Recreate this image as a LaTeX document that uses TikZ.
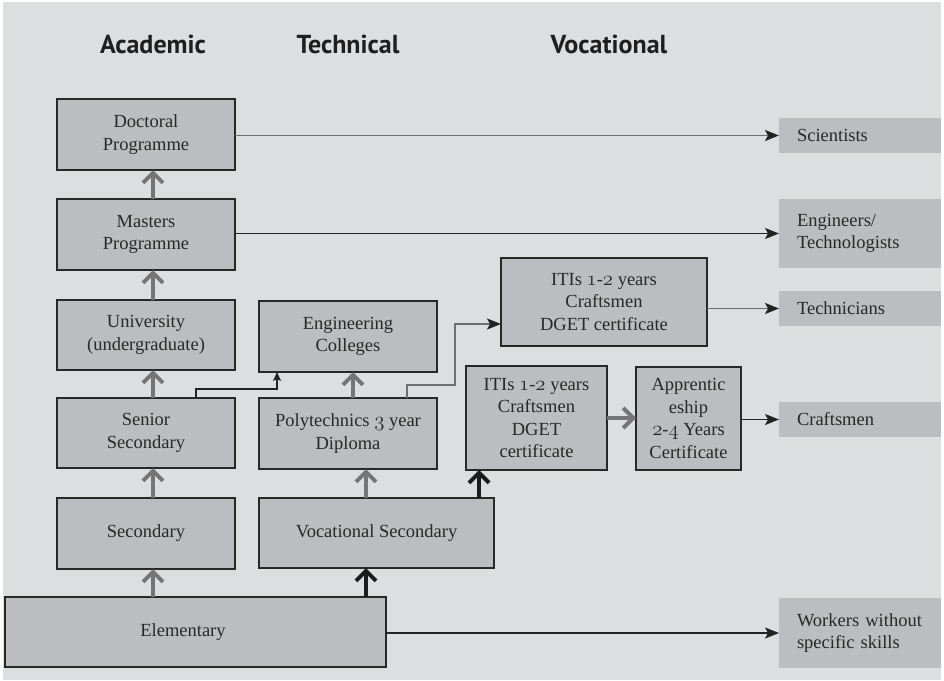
\documentclass[tikz,border=0pt]{standalone}
\usepackage{fontspec}
\newfontfamily\headfont{PT Sans}
\newfontfamily\serfont{Liberation Serif}
\usetikzlibrary{arrows.meta}
\definecolor{bgc}{RGB}{221,222,224}
\definecolor{boxfill}{RGB}{188,189,192}
\definecolor{boxline}{RGB}{40,40,40}
\definecolor{txt}{RGB}{40,40,40}
\definecolor{arrgray}{RGB}{117,117,117}
\definecolor{arrblack}{RGB}{28,28,28}
\definecolor{thingray}{RGB}{110,110,110}
\definecolor{thindark}{RGB}{35,35,35}
\newcommand\diagfont{\serfont\fontsize{18.5}{22.5}\selectfont}
\newcommand\osn[1]{{\fontencoding{OML}\fontfamily{cmm}\fontseries{m}\fontshape{it}\fontsize{20.5}{22.5}\selectfont #1}}
\begin{document}
\begin{tikzpicture}[x=1pt,y=-1pt,
  box/.style={draw=boxline, fill=boxfill, line width=1.4pt, inner sep=0pt, outer sep=0pt,
    align=center, font=\diagfont, text=txt},
  outc/.style={fill=boxfill, inner xsep=18pt, inner ysep=0pt, outer sep=0pt,
    text width=126pt, align=left, font=\diagfont, text=txt},
  head/.style={font=\headfont\bfseries\fontsize{26}{30}\selectfont, text=black!88, anchor=base},
  garrow/.style={draw=arrgray, line width=4pt, -{Straight Barb[length=10pt,width=20pt]}},
  karrow/.style={draw=arrblack, line width=4pt, -{Straight Barb[length=10pt,width=20pt]}},
  tgray/.style={draw=thingray, line width=1.5pt, -{Stealth[length=14pt,width=11pt,inset=3pt,color=thindark]}},
  tdark/.style={draw=thindark, line width=1.2pt, -{Stealth[length=14pt,width=11pt,inset=3pt]}},
  tsmall/.style={draw=thindark, line width=1.2pt, -{Stealth[length=9pt,width=8pt,inset=2pt]}}
]
\useasboundingbox (0,0) rectangle (944,680);
\fill[bgc] (3,2) rectangle (941,680);

% headings
\node[head] (hA) at (153,53) {Academic};
\node[head] (hT) at (348,53) {Technical};
\node[head] (hV) at (609,53) {Vocational};

% academic column
\node[box, minimum width=178pt, minimum height=71pt] (doc) at (146,134.5) {Doctoral\\Programme};
\node[box, minimum width=178pt, minimum height=71pt] (mas) at (146,234.5) {Masters\\Programme};
\node[box, minimum width=178pt, minimum height=70pt] (uni) at (146,335) {University\\(undergraduate)};
\node[box, minimum width=178pt, minimum height=70pt] (sen) at (146,433) {Senior\\Secondary};
\node[box, minimum width=178pt, minimum height=71pt] (sec) at (146,533.5) {Secondary};
\node[box, minimum width=381pt, minimum height=70pt] (ele) at (195.5,632) {Elementary\hspace*{25pt}};

% technical column
\node[box, minimum width=178pt, minimum height=71pt] (eng) at (348,336.5) {Engineering\\Colleges};
\node[box, minimum width=178pt, minimum height=71pt] (pol) at (348,433.5) {Polytechnics \osn{3} year\\Diploma};
\node[box, minimum width=235pt, minimum height=70pt] (voc) at (376.5,533) {Vocational Secondary};

% vocational column
\node[box, minimum width=206pt, minimum height=88pt] (itiA) at (604,302) {ITIs \osn{1}-\osn{2} years\\Craftsmen\\DGET certificate};
\node[box, minimum width=141pt, minimum height=104pt] (itiB) at (536.5,418) {ITIs \osn{1}-\osn{2} years\\Craftsmen\\DGET\\certificate};
\node[box, minimum width=105pt, minimum height=103pt] (app) at (688.5,418.5) {Apprentic\\eship\\\osn{2}-\osn{4} Years\\Certificate};

% outcomes
\node[outc, minimum height=35pt] (sci) at (860,135.5) {Scientists};
\node[outc, minimum height=69pt] (engr) at (860,233.5) {Engineers/\\Technologists};
\node[outc, minimum height=35pt] (tech) at (860,308.5) {Technicians};
\node[outc, minimum height=35pt] (craft) at (860,419.5) {Craftsmen};
\node[outc, minimum height=70pt] (work) at (860,633) {Workers without\\specific skills};

% helper coordinates
\coordinate (xa) at (153,0);
\coordinate (xe) at (353,0);
\coordinate (xv) at (366,0);
\coordinate (xi) at (479,0);
\coordinate (xs) at (196,0);
\coordinate (xse) at (277,0);
\coordinate (xp) at (407,0);
\coordinate (pq) at (455,324);

% thick upward arrows
\draw[garrow] (mas.north -| xa) -- (doc.south -| xa);
\draw[garrow] (uni.north -| xa) -- (mas.south -| xa);
\draw[garrow] (sen.north -| xa) -- (uni.south -| xa);
\draw[garrow] (sec.north -| xa) -- (sen.south -| xa);
\draw[garrow] (ele.north -| xa) -- (sec.south -| xa);
\draw[garrow] (pol.north -| xe) -- (eng.south -| xe);
\draw[garrow] (voc.north -| xv) -- (pol.south -| xv);
\draw[karrow] (ele.north -| xv) -- (voc.south -| xv);
\draw[karrow] (voc.north -| xi) -- (itiB.south -| xi);
\draw[garrow] (itiB.east) -- (app.west |- itiB.east);

% thin connectors
\draw[tgray] (doc.east |- sci.west) -- (sci.west);
\draw[tdark] (mas.east |- engr.west) -- (engr.west);
\draw[tgray] (itiA.east |- tech.west) -- (tech.west);
\draw[tdark] (app.east |- craft.west) -- (craft.west);
\draw[tdark] (ele.east |- work.west) -- (work.west);
\draw[tsmall] (sen.north -| xs) -- ++(0,-9) -| (eng.south -| xse);
\draw[tgray] (pol.north -| xp) -- ++(0,-13) -| (pq) -- (itiA.west |- pq);
\end{tikzpicture}
\end{document}
